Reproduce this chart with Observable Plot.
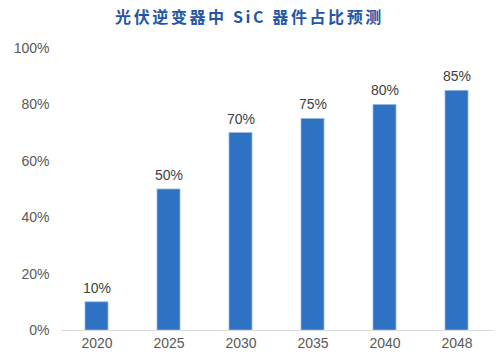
<!DOCTYPE html>
<html><head><meta charset="utf-8">
<script src="https://cdn.jsdelivr.net/npm/d3@7"></script>
<script src="https://cdn.jsdelivr.net/npm/@observablehq/plot@0.6"></script>
<style>
body{margin:0;background:#fff;width:499px;height:355px;overflow:hidden}
#title{height:30px;line-height:32px;text-align:center;font-family:"Noto Sans CJK SC",sans-serif;font-weight:bold;font-size:16px;color:#2456a6;letter-spacing:2.6px}
svg{overflow:visible}
</style></head><body>
<div id="title">光伏逆变器中 SiC 器件占比预测</div>
<div id="chart"></div>
<script>
const years = ["2020","2025","2030","2035","2040","2048"];
const shares = [10, 50, 70, 75, 80, 85];
const yTicks = [0, 20, 40, 60, 80, 100];
const data = years.map((y, i) => ({year: y, share: shares[i]}));
const chart = Plot.plot({
  width: 499, height: 325,
  marginTop: 18, marginBottom: 25, marginLeft: 61, marginRight: 6,
  style: {fontFamily: "'Liberation Sans', Arial, sans-serif", fontSize: "14px", color: "#595959", background: "#fff"},
  x: {domain: years, paddingInner: 0.68, paddingOuter: 0.34, label: null, tickSize: 0, tickPadding: 8},
  y: {domain: [0, 100], ticks: yTicks, tickFormat: d => d + "%", label: null, tickSize: 0, tickPadding: 12},
  marks: [
    Plot.barY(data, {x: "year", y: "share", fill: "#2e72c3", stroke: "#9ab8e4", strokeWidth: 0.8}),
    Plot.ruleY([0], {stroke: "#d9d9d9", strokeWidth: 1}),
    Plot.text(data, {x: "year", y: "share", text: d => d.share + "%", dy: -14, fill: "#404040", fontSize: 14})
  ]
});
document.getElementById("chart").appendChild(chart);
</script>
</body></html>
